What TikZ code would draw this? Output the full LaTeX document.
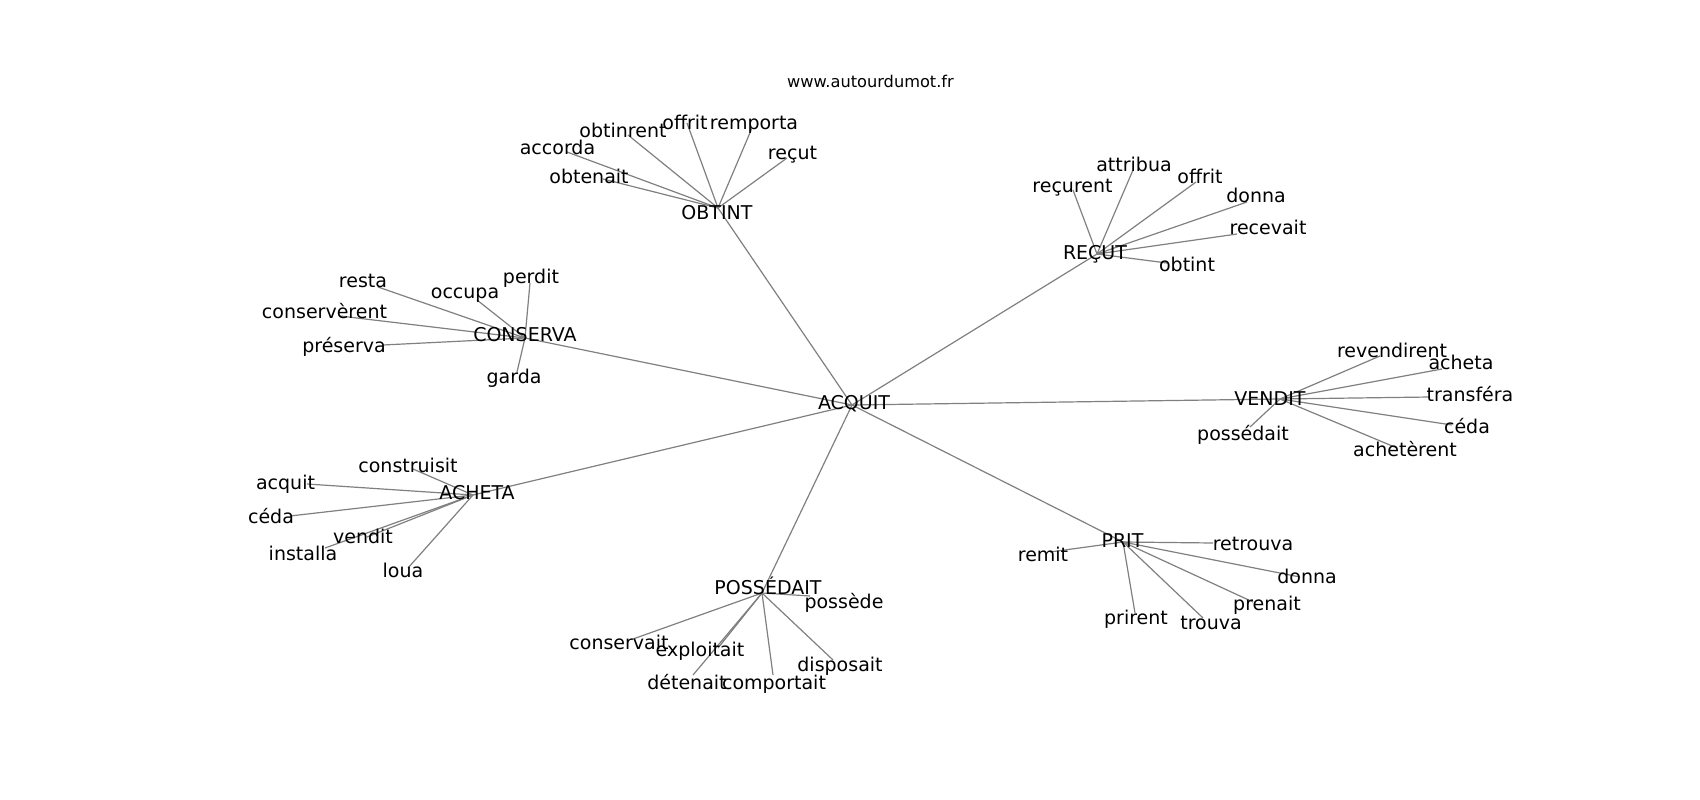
\documentclass[tikz,border=0pt]{standalone}
\usepackage{fontspec}
\setmainfont{DejaVu Sans}
\begin{document}
\begin{tikzpicture}[x=1pt,y=-1pt,
  edge/.style={draw=gray, line width=1.2pt},
  lbl/.style={inner sep=0pt, text height=13.9pt, text depth=0pt, font=\fontsize{19}{19}\selectfont, text=black},
  ttl/.style={inner sep=0pt, text height=11.8pt, text depth=0pt, font=\fontsize{16.2}{16}\selectfont, text=black}]
\fill[white] (0,0) rectangle (1700,800);
\useasboundingbox (0,0) rectangle (1700,800);
% ---- hub coordinates
\coordinate (acquit) at (852,405);
\coordinate (obtint) at (718,208);
\coordinate (recut) at (1097,254);
\coordinate (conserva) at (525,338);
\coordinate (vendit) at (1280,399);
\coordinate (acheta) at (473,495);
\coordinate (possedait) at (762,593);
\coordinate (prit) at (1123,542);
% ---- leaf coordinates
% OBTINT
\coordinate (o-accorda) at (567,152);
\coordinate (o-obtenait) at (603,179);
\coordinate (o-obtinrent) at (628,135);
\coordinate (o-offrit) at (687,123);
\coordinate (o-remporta) at (752,128);
\coordinate (o-recut) at (787,158);
% RECUT
\coordinate (r-recurent) at (1073,190);
\coordinate (r-attribua) at (1133,170);
\coordinate (r-offrit) at (1196,182);
\coordinate (r-donna) at (1247,202);
\coordinate (r-recevait) at (1237,234);
\coordinate (r-obtint) at (1167,263);
% VENDIT
\coordinate (v-revendirent) at (1380,356);
\coordinate (v-acheta) at (1442,369);
\coordinate (v-transfera) at (1430,397);
\coordinate (v-ceda) at (1452,425);
\coordinate (v-acheterent) at (1397,448);
\coordinate (v-possedait) at (1250,427);
% CONSERVA
\coordinate (c-resta) at (378,287);
\coordinate (c-occupa) at (477,300);
\coordinate (c-perdit) at (530,283);
\coordinate (c-conserverent) at (340,316);
\coordinate (c-preserva) at (383,345);
\coordinate (c-garda) at (517,372);
% ACHETA
\coordinate (a-construisit) at (413,469);
\coordinate (a-acquit) at (307,484);
\coordinate (a-ceda) at (290,516);
\coordinate (a-vendit) at (367,537);
\coordinate (a-installa) at (325,548);
\coordinate (a-loua) at (408,568);
% POSSEDAIT
\coordinate (p-possede) at (810,596);
\coordinate (p-conservait) at (633,639);
\coordinate (p-exploitait) at (718,648);
\coordinate (p-detenait) at (693,675);
\coordinate (p-comportait) at (773,675);
\coordinate (p-disposait) at (833,660);
% PRIT
\coordinate (t-remit) at (1050,552);
\coordinate (t-retrouva) at (1213,543);
\coordinate (t-donna) at (1300,577);
\coordinate (t-prenait) at (1253,602);
\coordinate (t-trouva) at (1203,618);
\coordinate (t-prirent) at (1135,613);
% ---- edges
\foreach \h in {obtint,recut,conserva,vendit,acheta,possedait,prit}
  \draw[edge] (acquit) -- (\h);
\foreach \l in {accorda,obtenait,obtinrent,offrit,remporta,recut}
  \draw[edge] (obtint) -- (o-\l);
\foreach \l in {recurent,attribua,offrit,donna,recevait,obtint}
  \draw[edge] (recut) -- (r-\l);
\foreach \l in {revendirent,acheta,transfera,ceda,acheterent,possedait}
  \draw[edge] (vendit) -- (v-\l);
\foreach \l in {resta,occupa,perdit,conserverent,preserva,garda}
  \draw[edge] (conserva) -- (c-\l);
\foreach \l in {construisit,acquit,ceda,vendit,installa,loua}
  \draw[edge] (acheta) -- (a-\l);
\foreach \l in {possede,conservait,exploitait,detenait,comportait,disposait}
  \draw[edge] (possedait) -- (p-\l);
\foreach \l in {remit,retrouva,donna,prenait,trouva,prirent}
  \draw[edge] (prit) -- (t-\l);
% ---- labels
\node[ttl] (title) at (870.5,82) {www.autourdumot.fr};
\node[lbl] (L-acquit) at (854,403) {ACQUIT};
\node[lbl] (L-obtint) at (717,213) {OBTINT};
\node[lbl] (L-recut) at (1095,253) {REÇUT};
\node[lbl] (L-vendit) at (1270,399) {VENDIT};
\node[lbl] (L-conserva) at (525,335) {CONSERVA};
\node[lbl] (L-acheta) at (477,493) {ACHETA};
\node[lbl] (L-possedait) at (768,588) {POSSÉDAIT};
\node[lbl] (L-prit) at (1122.5,541) {PRIT};
% OBTINT leaves
\node[lbl] (Lo-accorda) at (557.5,148) {accorda};
\node[lbl] (Lo-obtenait) at (589,177) {obtenait};
\node[lbl] (Lo-obtinrent) at (623,131) {obtinrent};
\node[lbl] (Lo-offrit) at (685,123) {offrit};
\node[lbl] (Lo-remporta) at (754,123) {remporta};
\node[lbl] (Lo-recut) at (792.5,153) {reçut};
% RECUT leaves
\node[lbl] (Lr-recurent) at (1072.5,186) {reçurent};
\node[lbl] (Lr-attribua) at (1134,165) {attribua};
\node[lbl] (Lr-offrit) at (1200,177) {offrit};
\node[lbl] (Lr-donna) at (1256,196) {donna};
\node[lbl] (Lr-recevait) at (1268,228) {recevait};
\node[lbl] (Lr-obtint) at (1187,265) {obtint};
% VENDIT leaves
\node[lbl] (Lv-revendirent) at (1392,351) {revendirent};
\node[lbl] (Lv-acheta) at (1461,363) {acheta};
\node[lbl] (Lv-transfera) at (1470,395) {transféra};
\node[lbl] (Lv-ceda) at (1467,427) {céda};
\node[lbl] (Lv-acheterent) at (1405,450) {achetèrent};
\node[lbl] (Lv-possedait) at (1243,434) {possédait};
% CONSERVA leaves
\node[lbl] (Lc-resta) at (363,281) {resta};
\node[lbl] (Lc-occupa) at (465,292) {occupa};
\node[lbl] (Lc-perdit) at (531,277) {perdit};
\node[lbl] (Lc-conserverent) at (324.5,312) {conservèrent};
\node[lbl] (Lc-preserva) at (344,346) {préserva};
\node[lbl] (Lc-garda) at (514,377) {garda};
% ACHETA leaves
\node[lbl] (La-construisit) at (408,466) {construisit};
\node[lbl] (La-acquit) at (285.5,483) {acquit};
\node[lbl] (La-ceda) at (271,517) {céda};
\node[lbl] (La-vendit) at (363,537) {vendit};
\node[lbl] (La-installa) at (303,554) {installa};
\node[lbl] (La-loua) at (403,571) {loua};
% POSSEDAIT leaves
\node[lbl] (Lp-possede) at (844,602) {possède};
\node[lbl] (Lp-conservait) at (619,643) {conservait};
\node[lbl] (Lp-exploitait) at (700,650) {exploitait};
\node[lbl] (Lp-detenait) at (687,683) {détenait};
\node[lbl] (Lp-comportait) at (774,683) {comportait};
\node[lbl] (Lp-disposait) at (840,665) {disposait};
% PRIT leaves
\node[lbl] (Lt-remit) at (1043,555) {remit};
\node[lbl] (Lt-retrouva) at (1253,544) {retrouva};
\node[lbl] (Lt-donna) at (1307,577) {donna};
\node[lbl] (Lt-prenait) at (1267,604) {prenait};
\node[lbl] (Lt-trouva) at (1211,623) {trouva};
\node[lbl] (Lt-prirent) at (1136,618) {prirent};
\end{tikzpicture}
\end{document}
